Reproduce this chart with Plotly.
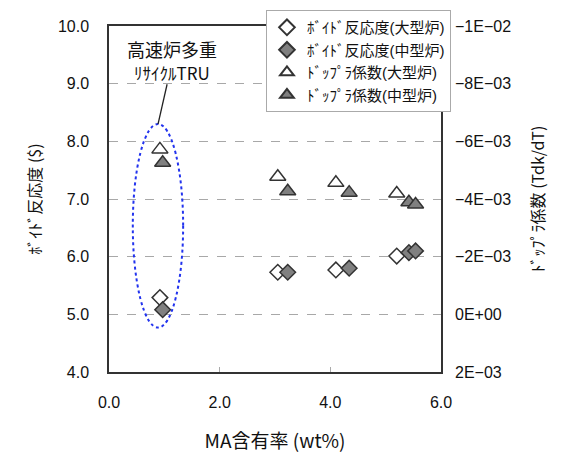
import plotly.graph_objects as go

# ---- data ----
x_large = [0.92, 3.05, 4.10, 5.20]
x_medium = [0.97, 3.23, 4.34, 5.42, 5.54]
void_large = [5.29, 5.73, 5.77, 6.01]
void_medium = [5.08, 5.73, 5.80, 6.07, 6.10]
doppler_large = [-5.72e-3, -4.77e-3, -4.56e-3, -4.19e-3]
doppler_medium = [-5.26e-3, -4.27e-3, -4.22e-3, -3.89e-3, -3.81e-3]

names = ["ﾎﾞｲﾄﾞ反応度(大型炉)", "ﾎﾞｲﾄﾞ反応度(中型炉)", "ﾄﾞｯﾌﾟﾗ係数(大型炉)", "ﾄﾞｯﾌﾟﾗ係数(中型炉)"]
y2_tickvals = [-1e-2, -8e-3, -6e-3, -4e-3, -2e-3, 0, 2e-3]
y2_ticktext = ["−1E−02", "−8E−03", "−6E−03", "−4E−03", "−2E−03", "0E+00", "2E−03"]

FONT = "Liberation Sans, Arial, Noto Sans CJK JP"
JFONT = "Noto Sans CJK JP"
EDGE = "#333333"
GRAY = "#808080"

fig = go.Figure()
fig.add_trace(go.Scatter(x=x_large, y=void_large, mode="markers", name=names[0],
                         marker=dict(symbol="diamond", size=12, color="white",
                                     line=dict(color=EDGE, width=1.5))))
fig.add_trace(go.Scatter(x=x_medium, y=void_medium, mode="markers", name=names[1],
                         marker=dict(symbol="diamond", size=12, color=GRAY,
                                     line=dict(color=EDGE, width=1.5))))
fig.add_trace(go.Scatter(x=x_large, y=doppler_large, mode="markers", name=names[2], yaxis="y2",
                         marker=dict(symbol="triangle-up", size=14, color="white",
                                     line=dict(color=EDGE, width=1.5))))
fig.add_trace(go.Scatter(x=x_medium, y=doppler_medium, mode="markers", name=names[3], yaxis="y2",
                         marker=dict(symbol="triangle-up", size=14, color=GRAY,
                                     line=dict(color=EDGE, width=1.5))))

# ellipse + callout
fig.add_shape(type="circle", xref="x", yref="y", x0=0.43, x1=1.34, y0=4.77, y1=8.30,
              line=dict(color="#2233ee", width=2, dash="dot"))
fig.add_shape(type="line", xref="x", yref="y", x0=1.05, y0=8.99, x1=0.886, y1=8.30,
              line=dict(color="#222222", width=1.3))
fig.add_annotation(x=1.14, y=9.6, xref="x", yref="y", text="高速炉多重", showarrow=False,
                   font=dict(size=18, color="#111111", family=JFONT))
fig.add_annotation(x=1.14, y=9.2, xref="x", yref="y", text="ﾘｻｲｸﾙTRU", showarrow=False,
                   font=dict(size=17, color="#111111", family=JFONT))

# page body has an 8px default margin, so the figure is 8px smaller than the window
fig.update_layout(
    width=554, height=445,
    margin=dict(l=101, r=121, t=18, b=81, autoexpand=False),
    paper_bgcolor="white", plot_bgcolor="white",
    font=dict(family=FONT, size=16, color="#111111"),
    showlegend=True,
    legend=dict(x=1.03, xanchor="right", y=1.046, yanchor="top",
                bgcolor="white", bordercolor="#aaaaaa", borderwidth=1,
                font=dict(size=15, family=FONT), itemsizing="constant",
                tracegroupgap=0, itemwidth=30),
    xaxis=dict(range=[0, 6], dtick=2, tickformat=".1f", showgrid=False, zeroline=False,
               ticks="inside", ticklen=5, tickcolor="#aaaaaa",
               showline=True, linecolor=EDGE, linewidth=1.5, mirror=True,
               ticklabelstandoff=15,
               title=dict(text="MA含有率 (wt%)", font=dict(size=19, family=JFONT), standoff=31)),
    yaxis=dict(range=[4, 10], dtick=1, tickformat=".1f", zeroline=False,
               showgrid=True, gridcolor="#a8a8a8", griddash="dash", gridwidth=1,
               showline=True, linecolor=EDGE, linewidth=1.5, mirror=True,
               ticks="", ticklabelstandoff=15,
               title=dict(text="ﾎﾞｲﾄﾞ反応度 ($)", font=dict(size=16, family=JFONT), standoff=12)),
    yaxis2=dict(overlaying="y", side="right", range=[2e-3, -1e-2],
                tickvals=y2_tickvals, ticktext=y2_ticktext, showgrid=False, zeroline=False,
                showline=False, ticks="", ticklabelstandoff=13,
                title=dict(text="ﾄﾞｯﾌﾟﾗ係数 (Tdk/dT)", font=dict(size=16, family=JFONT), standoff=22)),
)

fig.write_html("out.html", config={"displayModeBar": False})
